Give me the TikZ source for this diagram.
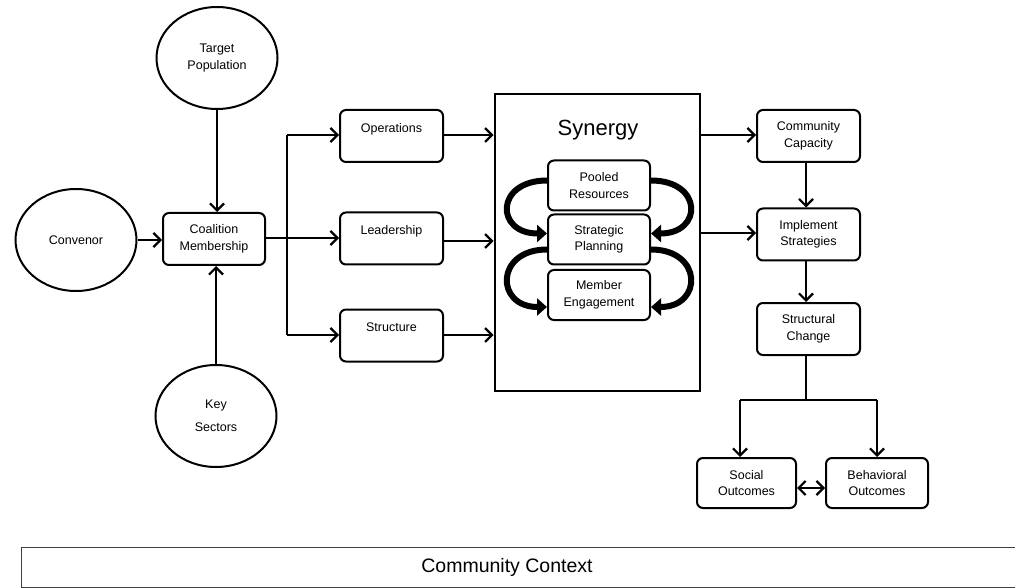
\documentclass[tikz,border=0pt]{standalone}
\usepackage{fontspec}
\setmainfont{Liberation Sans}
\usetikzlibrary{arrows.meta,shapes.geometric}
\begin{document}
\begin{tikzpicture}[x=1pt,y=1pt,
  every node/.style={font=\fontsize{12.5}{16.5}\selectfont, align=center},
  ell/.style={draw, ellipse, line width=2pt, minimum width=121pt, minimum height=102pt, inner sep=0pt},
  rbox/.style={draw, rounded corners=6pt, line width=2pt, minimum width=103pt, minimum height=52pt, inner sep=2pt},
  ibox/.style={draw, rounded corners=6pt, line width=2pt, minimum width=102pt, minimum height=50pt, inner sep=2pt},
  conn/.style={line width=2.2pt, -{Straight Barb[length=7pt,width=14pt]}},
  plain/.style={line width=2.2pt},
  curv/.style={line width=6pt, -{Triangle[length=10pt,width=17pt]}}
]
\useasboundingbox (0,0) rectangle (1015,-588);

% left ellipses
\node[ell] (tp) at (217,-58) {Target\\Population};
\node[ell] (cv) at (76,-240) {Convenor};
\node[ell] (ks) at (216,-416) {Key\\[6pt]Sectors};

% coalition
\node[rbox, minimum width=102pt] (cm) at (214,-239) {Coalition\\Membership};

% middle boxes
\node[rbox] (op) at (391.5,-136) {Operations\\~};
\node[rbox] (ld) at (391.5,-238.5) {Leadership\\~};
\node[rbox] (st) at (391.5,-335.5) {Structure\\~};

% synergy
\node[draw, line width=2.8pt, minimum width=205pt, minimum height=297pt] (syn) at (597.5,-242.5) {};
\node[font=\fontsize{22}{26}\selectfont] (synt) at (598,-130) {Synergy};
\node[ibox] (pr) at (599,-185.5) {Pooled\\Resources};
\node[ibox] (sp) at (599,-239.5) {Strategic\\Planning};
\node[ibox] (me) at (599,-295) {Member\\Engagement};

% right column
\node[rbox] (cc) at (808.5,-136) {Community\\Capacity};
\node[rbox] (is) at (808.5,-234.5) {Implement\\Strategies};
\node[rbox] (sc) at (808.5,-329) {Structural\\Change};
\node[rbox, minimum width=99pt, minimum height=50pt] (so) at (746.5,-483) {Social\\Outcomes};
\node[rbox, minimum width=102pt, minimum height=50pt] (bo) at (877,-483) {Behavioral\\Outcomes};

% coordinates
\coordinate (br) at (287,-238);
\coordinate (brt) at (287,-135);
\coordinate (brb) at (287,-335);
\coordinate (sj) at (806,-400);
\coordinate (sjl) at (740,-400);
\coordinate (sjr) at (877,-400);

% connectors left
\draw[conn] (tp.south) -- (tp.south |- cm.north);
\draw[conn] (ks.north) -- (ks.north |- cm.south);
\draw[conn] (cv.east) -- (cm.west |- cv.east);
\draw[plain] (cm.east |- br) -- (br);
\draw[plain] (brt) -- (brb);
\draw[conn] (br) -- (ld.west |- br);
\draw[conn] (brt) -- (op.west |- brt);
\draw[conn] (brb) -- (st.west |- brb);

% into synergy
\draw[conn] (op.east |- 0,-135) -- (syn.west |- 0,-135);
\draw[conn] (ld.east |- 0,-241) -- (syn.west |- 0,-241);
\draw[conn] (st.east |- 0,-335) -- (syn.west |- 0,-335);

% inner curved arrows
\draw[curv] ([yshift=5pt]pr.west) .. controls +(-52,0) and +(-52,0) .. ([yshift=6pt]sp.west);
\draw[curv] ([yshift=5pt]pr.east) .. controls +(52,0) and +(52,0) .. ([yshift=6pt]sp.east);
\draw[curv] ([yshift=-10pt]sp.west) .. controls +(-52,0) and +(-52,0) .. ([yshift=-12pt]me.west);
\draw[curv] ([yshift=-10pt]sp.east) .. controls +(52,0) and +(52,0) .. ([yshift=-12pt]me.east);

% out of synergy
\draw[conn] (syn.east |- 0,-135) -- (cc.west |- 0,-135);
\draw[conn] (syn.east |- 0,-233) -- (is.west |- 0,-233);
\draw[conn] (cc.south -| 806,0) -- (is.north -| 806,0);
\draw[conn] (is.south -| 806,0) -- (sc.north -| 806,0);
\draw[plain] (sc.south -| sj) -- (sj);
\draw[plain] (sjl) -- (sjr);
\draw[conn] (sjl) -- (sjl |- so.north);
\draw[conn] (sjr) -- (sjr |- bo.north);
\draw[line width=2.2pt, {Straight Barb[length=7pt,width=14pt]}-{Straight Barb[length=7pt,width=14pt]}] (so.east |- 0,-488) -- (bo.west |- 0,-488);

% community context
\draw[line width=1pt, black!75] (21,-547) rectangle (1020,-587);
\node[font=\fontsize{19.5}{23}\selectfont] (ctx) at (507,-567) {Community Context};
\end{tikzpicture}
\end{document}
